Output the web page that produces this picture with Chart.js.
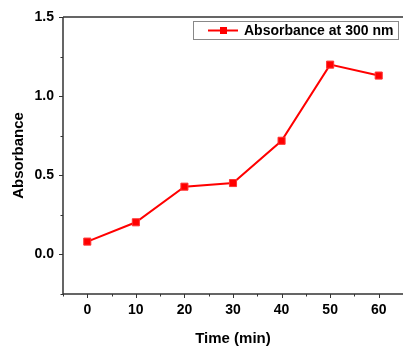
<!DOCTYPE html>
<html><head><meta charset="utf-8">
<script src="https://cdn.jsdelivr.net/npm/chart.js@4/dist/chart.umd.min.js"></script>
<style>html,body{margin:0;padding:0;background:#fff;}#wrap{width:403px;height:346px;}</style>
</head><body><div id="wrap"><canvas id="c" width="403" height="346"></canvas></div>
<script>
const times = [0, 10, 20, 30, 40, 50, 60];
const absorbance = [0.081, 0.203, 0.428, 0.451, 0.718, 1.199, 1.130];
const seriesLabel = 'Absorbance at 300 nm';
const xTitle = 'Time (min)';
const yTitle = 'Absorbance';
const xMajorTicks = [0, 10, 20, 30, 40, 50, 60];
const xMinorTicks = [-5, 5, 15, 25, 35, 45, 55, 65];
const yMajorTicks = [0, 0.5, 1.0, 1.5];
const yMinorTicks = [-0.25, 0.25, 0.75, 1.25];

const FONT = 'Arial, "Liberation Sans", Helvetica, sans-serif';

const framePlugin = {
  id: 'frame',
  beforeDatasetsDraw(chart) {
    const {ctx, chartArea: a, scales} = chart;
    ctx.save();
    ctx.strokeStyle = '#333';
    ctx.lineWidth = 1.5;
    ctx.beginPath();
    ctx.moveTo(a.left, a.top); ctx.lineTo(a.right, a.top);
    ctx.moveTo(a.left, a.top); ctx.lineTo(a.left, a.bottom);
    ctx.moveTo(a.left, a.bottom); ctx.lineTo(a.right, a.bottom);
    ctx.stroke();
    ctx.lineWidth = 1;
    ctx.beginPath();
    xMajorTicks.forEach(v => { const x = Math.round(scales.x.getPixelForValue(v)) + 0.5; ctx.moveTo(x, a.bottom); ctx.lineTo(x, a.bottom + 4); });
    xMinorTicks.forEach(v => { const x = Math.round(scales.x.getPixelForValue(v)) + 0.5; ctx.moveTo(x, a.bottom); ctx.lineTo(x, a.bottom + 2.5); });
    yMajorTicks.forEach(v => { const y = Math.round(scales.y.getPixelForValue(v)) + 0.5; ctx.moveTo(a.left, y); ctx.lineTo(a.left - 4, y); });
    yMinorTicks.forEach(v => { const y = Math.round(scales.y.getPixelForValue(v)) + 0.5; ctx.moveTo(a.left, y); ctx.lineTo(a.left - 2.5, y); });
    ctx.stroke();
    ctx.restore();
  },
  afterDraw(chart) {
    const {ctx} = chart;
    const ds = chart.data.datasets[0];
    ctx.save();
    ctx.strokeStyle = '#888';
    ctx.lineWidth = 1;
    ctx.strokeRect(193.5, 21.5, 205, 18);
    ctx.strokeStyle = ds.borderColor;
    ctx.lineWidth = 2;
    ctx.beginPath(); ctx.moveTo(208, 30.5); ctx.lineTo(238, 30.5); ctx.stroke();
    ctx.fillStyle = ds.pointBackgroundColor;
    ctx.fillRect(220, 27, 7, 7);
    ctx.fillStyle = '#000';
    ctx.font = 'bold 14px ' + FONT;
    ctx.textBaseline = 'middle';
    ctx.textAlign = 'left';
    ctx.fillText(ds.label, 244, 31);
    ctx.restore();
  }
};

new Chart(document.getElementById('c'), {
  type: 'line',
  data: {
    datasets: [{
      label: seriesLabel,
      data: times.map((t, i) => ({x: t, y: absorbance[i]})),
      borderColor: '#ff0000',
      borderWidth: 2,
      pointStyle: 'rect',
      pointRadius: 5,
      pointBackgroundColor: '#ff0000',
      pointBorderColor: '#ff3333',
      pointBorderWidth: 1,
      tension: 0,
      clip: false
    }]
  },
  options: {
    responsive: false,
    devicePixelRatio: 1,
    animation: false,
    layout: {autoPadding: false, padding: {top: 17, right: 0, left: 0, bottom: 0}},
    plugins: {legend: {display: false}, tooltip: {enabled: false}},
    scales: {
      x: {
        type: 'linear', min: -5, max: 65,
        afterBuildTicks: s => { s.ticks = xMajorTicks.map(v => ({value: v})); },
        afterFit: s => { s.height = 52; s.paddingLeft = 0; s.paddingRight = 0; },
        grid: {display: false, drawTicks: false}, border: {display: false},
        ticks: {color: '#000', font: {family: FONT, size: 14, weight: 'bold'}, padding: 8, maxRotation: 0, autoSkip: false},
        title: {display: true, text: xTitle, color: '#000', font: {family: FONT, size: 15, weight: 'bold'}, padding: {top: 4, bottom: -2}}
      },
      y: {
        type: 'linear', min: -0.25, max: 1.5,
        afterBuildTicks: s => { s.ticks = yMajorTicks.map(v => ({value: v})); },
        afterFit: s => { s.width = 63; s.paddingTop = 0; s.paddingBottom = 0; },
        grid: {display: false, drawTicks: false}, border: {display: false},
        ticks: {color: '#000', font: {family: FONT, size: 14, weight: 'bold'}, padding: 9, callback: v => Number(v).toFixed(1)},
        title: {display: true, text: yTitle, color: '#000', font: {family: FONT, size: 15, weight: 'bold'}, padding: {top: 10, bottom: 0}}
      }
    }
  },
  plugins: [framePlugin]
});
</script></body></html>
